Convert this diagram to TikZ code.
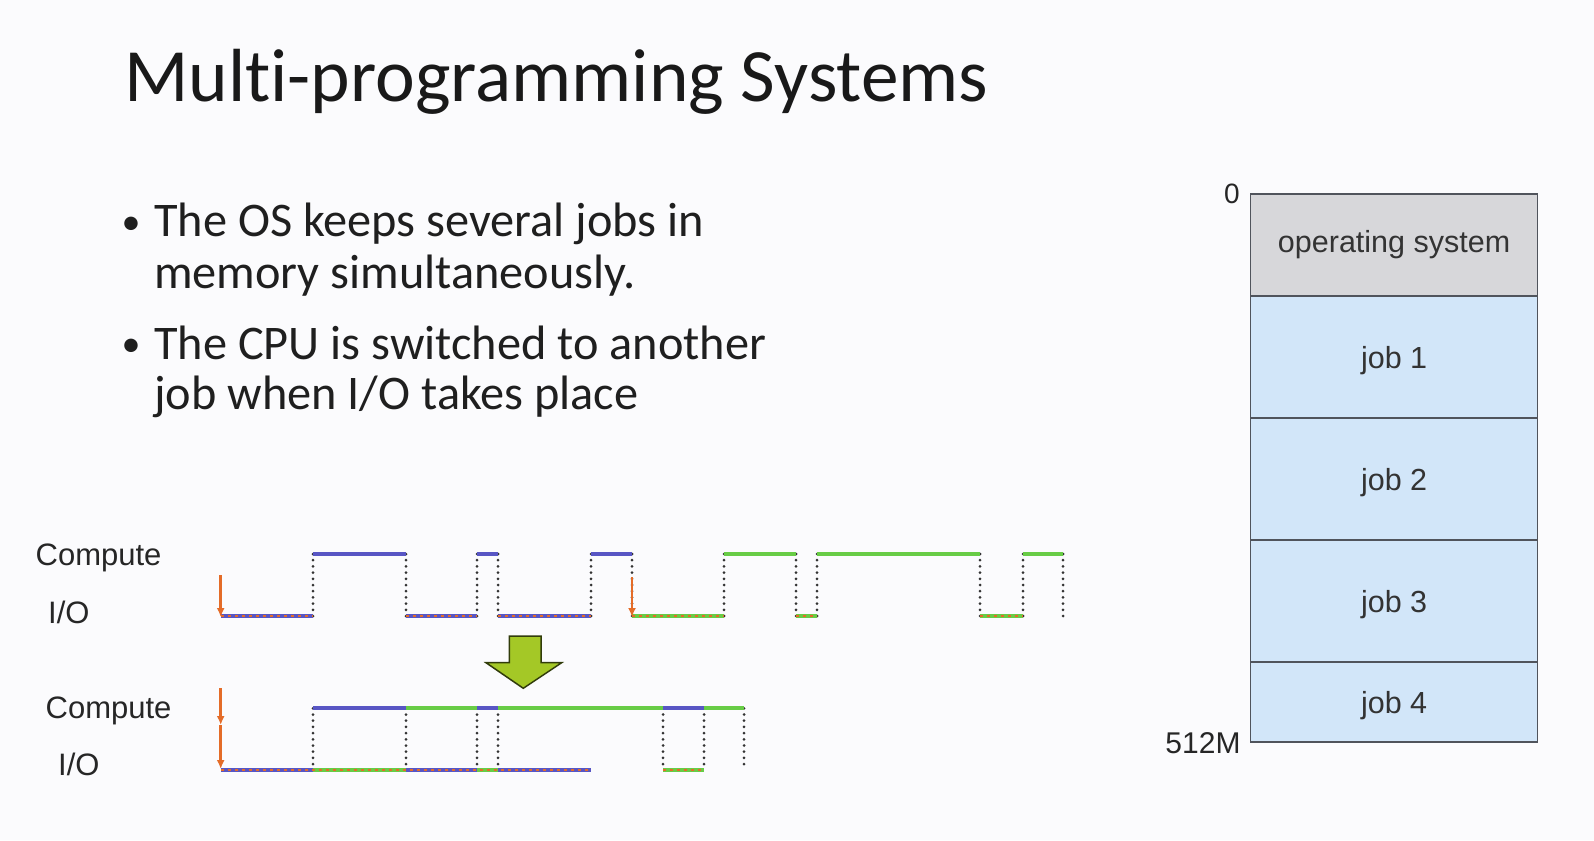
\documentclass[tikz,border=0pt]{standalone}
\usepackage{fontspec}
\setmainfont{Carlito}[Ligatures=NoCommon]
\newfontfamily\figfont{Liberation Sans}
\usetikzlibrary{arrows.meta}

\definecolor{slidebg}{RGB}{251,251,253}
\definecolor{jobone}{RGB}{88,86,196}
\definecolor{jobtwo}{RGB}{104,204,70}
\definecolor{iocol}{RGB}{228,108,40}
\definecolor{osgray}{RGB}{215,215,218}
\definecolor{jobblue}{RGB}{210,230,249}
\definecolor{cellline}{RGB}{80,84,92}
\definecolor{bigarrow}{RGB}{164,200,38}

\begin{document}
\begin{tikzpicture}[x=1pt, y=-1pt, >={Latex[length=9pt,width=8pt]},
    txt/.style={inner sep=0pt, anchor=base west},
    body/.style={font=\fontsize{48.3}{44}\selectfont, text=black!88},
    lbl/.style={inner sep=0pt, anchor=base west, font=\figfont\fontsize{31}{31}\selectfont, text=black!85},
    cpu/.style={line width=4pt},
    iomark/.style={line width=1.8pt, iocol, dash pattern=on 3pt off 4pt},
    swline/.style={line width=3pt, black!80, dash pattern=on 0pt off 6.2pt, line cap=round},
    jobstart/.style={->, line width=2.6pt, iocol},
    memcell/.style={draw=cellline, line width=1.5pt, minimum width=286.8pt, inner sep=0pt,
        outer sep=0pt, anchor=north, font=\figfont\fontsize{30.5}{30.5}\selectfont, text=black!80},
    jobcell/.style={memcell, fill=jobblue, text depth=0pt}]
        % ==== BACKGROUND ====
        \fill[slidebg] (0,0) rectangle (1594,840);
        \useasboundingbox (0,0) rectangle (1594,840);

        % ==== TITLE AND BULLETS ====
        \node[txt, font=\fontsize{75.3}{76}\selectfont, text=black!90] (title) at (124,101.7) {Multi-programming Systems};
        \node[inner sep=0pt, anchor=base, font=\fontsize{38}{38}\selectfont, text=black!88] (dotA) at (131,234) {\textbullet};
        \node[txt, body] (lineA1) at (154,236.7) {The OS keeps several jobs in};
        \node[txt, body] (lineA2) at (154,288) {memory simultaneously.};
        \node[inner sep=0pt, anchor=base, font=\fontsize{38}{38}\selectfont, text=black!88] (dotB) at (131,356.5) {\textbullet};
        \node[txt, body] (lineB1) at (154,359) {The CPU is switched to another};
        \node[txt, body] (lineB2) at (154,409.5) {job when I/O takes place};

        % ==== ROW LABELS ====
        \node[lbl] (cpuTop) at (35.5,565) {Compute};
        \node[lbl] (ioTop) at (48,623.3) {I/O};
        \node[lbl] (cpuBot) at (45.5,718.3) {Compute};
        \node[lbl] (ioBot) at (58,775) {I/O};

        % ==== ONE JOB AT A TIME ====
        \foreach \t in {313,406,477,498,591,632,724,796,817,980,1023,1063}
            \draw[swline] (\t,554) -- (\t,616);
        \draw[cpu, jobone] (221,616) -- (313,616) (406,616) -- (477,616) (498,616) -- (591,616);
        \draw[cpu, jobtwo] (632,616) -- (724,616) (796,616) -- (817,616) (980,616) -- (1023,616);
        \draw[iomark] (221,616) -- (313,616) (406,616) -- (477,616) (498,616) -- (591,616)
            (632,616) -- (724,616) (796,616) -- (817,616) (980,616) -- (1023,616);
        \draw[cpu, jobone] (313,554) -- (406,554) (477,554) -- (498,554) (591,554) -- (632,554);
        \draw[cpu, jobtwo] (724,554) -- (796,554) (817,554) -- (980,554) (1023,554) -- (1063,554);
        \draw[jobstart] (220.7,575) -- (220.7,617);
        \draw[jobstart] (632,577) -- (632,617);

        % ==== Big Arrow ====
        \filldraw[fill=bigarrow, draw=black!70!bigarrow, line width=1.5pt, line join=miter]
            (509.3,636) -- (541,636) -- (541,662.7) -- (561.7,662.7) -- (523.3,688.3)
            -- (486,662.7) -- (509.3,662.7) -- cycle;

        % ==== MULTIPROGRAMMED ====
        \foreach \t in {313,406,477,498,663,704,744}
            \draw[swline] (\t,708.3) -- (\t,770);
        \draw[cpu, jobone] (221,770) -- (313,770) (406,770) -- (477,770) (498,770) -- (591,770);
        \draw[cpu, jobtwo] (313,770) -- (406,770) (477,770) -- (498,770) (663,770) -- (704,770);
        \draw[iomark] (221,770) -- (591,770) (663,770) -- (704,770);
        \draw[cpu, jobone] (313,708.3) -- (406,708.3) (477,708.3) -- (498,708.3) (663,708.3) -- (704,708.3);
        \draw[cpu, jobtwo] (406,708.3) -- (477,708.3) (498,708.3) -- (663,708.3) (704,708.3) -- (744,708.3);
        \draw[jobstart] (220.7,688.3) -- (220.7,725);
        \draw[jobstart] (220.7,725) -- (220.7,769);

        % ==== MEMORY LAYOUT ====
        \node[memcell, fill=osgray, minimum height=102pt] (os) at (1394.1,194) {operating system};
        \node[jobcell, minimum height=122pt] (job1) at (1394.1,296) {job 1};
        \node[jobcell, minimum height=122pt] (job2) at (1394.1,418) {job 2};
        \node[jobcell, minimum height=122pt] (job3) at (1394.1,540) {job 3};
        \node[jobcell, minimum height=80pt] (job4) at (1394.1,662) {job 4};
        \node[lbl, anchor=base east, font=\figfont\fontsize{28}{28}\selectfont] (addrTop) at (1240,203) {0};
        \node[lbl, anchor=base east, font=\figfont\fontsize{30}{30}\selectfont] (addrBot) at (1240.7,753) {512M};
\end{tikzpicture}
\end{document}
